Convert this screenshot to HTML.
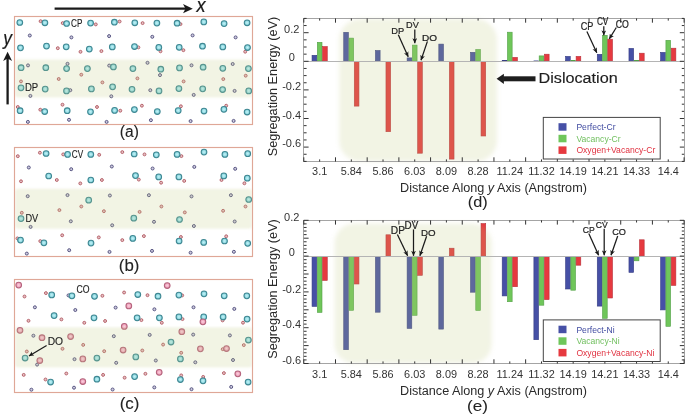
<!DOCTYPE html>
<html><head><meta charset="utf-8"><style>
html,body{margin:0;padding:0;background:#fff;}
body{width:685px;height:416px;position:relative;overflow:hidden;font-family:"Liberation Sans",sans-serif;}
</style></head><body>
<svg width="685" height="416" viewBox="0 0 685 416" style="position:absolute;left:0;top:0;will-change:transform" font-family="Liberation Sans, sans-serif">
<defs>
<radialGradient id="gc" cx="0.5" cy="0.5" r="0.55"><stop offset="0" stop-color="#c6f4f8"/><stop offset="0.6" stop-color="#92dae3"/><stop offset="1" stop-color="#62b3bf"/></radialGradient>
<radialGradient id="gp" cx="0.5" cy="0.5" r="0.55"><stop offset="0" stop-color="#fbd3e0"/><stop offset="0.6" stop-color="#f1a7c0"/><stop offset="1" stop-color="#d8849f"/></radialGradient>
<filter id="soft" x="-5%" y="-10%" width="110%" height="120%"><feGaussianBlur stdDeviation="0.8"/></filter>
<filter id="soft2" x="-5%" y="-5%" width="110%" height="110%"><feGaussianBlur stdDeviation="2"/></filter>
<marker id="ah" viewBox="0 0 10 10" refX="9.5" refY="5" markerWidth="4.2" markerHeight="4.2" orient="auto"><path d="M0,0.5 L10,5 L0,9.5 L2.5,5 z" fill="#1a1a1a"/></marker>
</defs>
<rect width="685" height="416" fill="#fff"/>
<rect x="14.5" y="16.5" width="238.0" height="108.0" fill="#fff"/>
<circle cx="40.6" cy="21.2" r="1.45" fill="#e6c0c4" stroke="#b7646c" stroke-width="1"/>
<circle cx="62.7" cy="23.1" r="1.45" fill="#e6c0c4" stroke="#b7646c" stroke-width="1"/>
<circle cx="57.8" cy="48.2" r="1.45" fill="#e6c0c4" stroke="#b7646c" stroke-width="1"/>
<circle cx="80.5" cy="51.8" r="1.45" fill="#e6c0c4" stroke="#b7646c" stroke-width="1"/>
<circle cx="95.8" cy="24.4" r="1.45" fill="#e6c0c4" stroke="#b7646c" stroke-width="1"/>
<circle cx="119.6" cy="21.5" r="1.45" fill="#e6c0c4" stroke="#b7646c" stroke-width="1"/>
<circle cx="142.6" cy="23.1" r="1.45" fill="#e6c0c4" stroke="#b7646c" stroke-width="1"/>
<circle cx="101.4" cy="51.1" r="1.45" fill="#e6c0c4" stroke="#b7646c" stroke-width="1"/>
<circle cx="138.4" cy="47.4" r="1.45" fill="#e6c0c4" stroke="#b7646c" stroke-width="1"/>
<circle cx="160.5" cy="51.3" r="1.45" fill="#e6c0c4" stroke="#b7646c" stroke-width="1"/>
<circle cx="180.5" cy="24.1" r="1.45" fill="#e6c0c4" stroke="#b7646c" stroke-width="1"/>
<circle cx="183.4" cy="50.2" r="1.45" fill="#e6c0c4" stroke="#b7646c" stroke-width="1"/>
<circle cx="245.2" cy="51.7" r="1.45" fill="#e6c0c4" stroke="#b7646c" stroke-width="1"/>
<circle cx="21" cy="81.4" r="1.45" fill="#e6c0c4" stroke="#b7646c" stroke-width="1"/>
<circle cx="58.7" cy="79" r="1.45" fill="#e6c0c4" stroke="#b7646c" stroke-width="1"/>
<circle cx="81.3" cy="74.7" r="1.45" fill="#e6c0c4" stroke="#b7646c" stroke-width="1"/>
<circle cx="17.8" cy="107" r="1.45" fill="#e6c0c4" stroke="#b7646c" stroke-width="1"/>
<circle cx="40.3" cy="109.7" r="1.45" fill="#e6c0c4" stroke="#b7646c" stroke-width="1"/>
<circle cx="62.5" cy="104.7" r="1.45" fill="#e6c0c4" stroke="#b7646c" stroke-width="1"/>
<circle cx="102.4" cy="82.4" r="1.45" fill="#e6c0c4" stroke="#b7646c" stroke-width="1"/>
<circle cx="137.4" cy="78.4" r="1.45" fill="#e6c0c4" stroke="#b7646c" stroke-width="1"/>
<circle cx="97" cy="107" r="1.45" fill="#e6c0c4" stroke="#b7646c" stroke-width="1"/>
<circle cx="120.3" cy="110.7" r="1.45" fill="#e6c0c4" stroke="#b7646c" stroke-width="1"/>
<circle cx="141.9" cy="105.7" r="1.45" fill="#e6c0c4" stroke="#b7646c" stroke-width="1"/>
<circle cx="183.6" cy="81.4" r="1.45" fill="#e6c0c4" stroke="#b7646c" stroke-width="1"/>
<circle cx="223.3" cy="79.1" r="1.45" fill="#e6c0c4" stroke="#b7646c" stroke-width="1"/>
<circle cx="245.7" cy="75.7" r="1.45" fill="#e6c0c4" stroke="#b7646c" stroke-width="1"/>
<circle cx="180.9" cy="106.3" r="1.45" fill="#e6c0c4" stroke="#b7646c" stroke-width="1"/>
<circle cx="226.2" cy="105.7" r="1.45" fill="#e6c0c4" stroke="#b7646c" stroke-width="1"/>
<circle cx="29.8" cy="35.5" r="1.5" fill="#cfcce0" stroke="#595783" stroke-width="1"/>
<circle cx="71.4" cy="37.4" r="1.5" fill="#cfcce0" stroke="#595783" stroke-width="1"/>
<circle cx="28" cy="65.4" r="1.5" fill="#cfcce0" stroke="#595783" stroke-width="1"/>
<circle cx="67.5" cy="63.8" r="1.5" fill="#cfcce0" stroke="#595783" stroke-width="1"/>
<circle cx="109.1" cy="36.1" r="1.5" fill="#cfcce0" stroke="#595783" stroke-width="1"/>
<circle cx="152.3" cy="36.8" r="1.5" fill="#cfcce0" stroke="#595783" stroke-width="1"/>
<circle cx="109.2" cy="65.6" r="1.5" fill="#cfcce0" stroke="#595783" stroke-width="1"/>
<circle cx="147.5" cy="62.8" r="1.5" fill="#cfcce0" stroke="#595783" stroke-width="1"/>
<circle cx="192.6" cy="35.4" r="1.5" fill="#cfcce0" stroke="#595783" stroke-width="1"/>
<circle cx="235.6" cy="37.4" r="1.5" fill="#cfcce0" stroke="#595783" stroke-width="1"/>
<circle cx="191.5" cy="65.3" r="1.5" fill="#cfcce0" stroke="#595783" stroke-width="1"/>
<circle cx="232.7" cy="64" r="1.5" fill="#cfcce0" stroke="#595783" stroke-width="1"/>
<circle cx="30.4" cy="95.9" r="1.5" fill="#cfcce0" stroke="#595783" stroke-width="1"/>
<circle cx="70.3" cy="90.2" r="1.5" fill="#cfcce0" stroke="#595783" stroke-width="1"/>
<circle cx="27.9" cy="121.9" r="1.5" fill="#cfcce0" stroke="#595783" stroke-width="1"/>
<circle cx="69" cy="119.8" r="1.5" fill="#cfcce0" stroke="#595783" stroke-width="1"/>
<circle cx="111.3" cy="96.3" r="1.5" fill="#cfcce0" stroke="#595783" stroke-width="1"/>
<circle cx="150.3" cy="90.2" r="1.5" fill="#cfcce0" stroke="#595783" stroke-width="1"/>
<circle cx="106.6" cy="121.9" r="1.5" fill="#cfcce0" stroke="#595783" stroke-width="1"/>
<circle cx="150.9" cy="120.2" r="1.5" fill="#cfcce0" stroke="#595783" stroke-width="1"/>
<circle cx="160" cy="75.1" r="1.5" fill="#cfcce0" stroke="#595783" stroke-width="1"/>
<circle cx="193.7" cy="94.9" r="1.5" fill="#cfcce0" stroke="#595783" stroke-width="1"/>
<circle cx="234.6" cy="90.9" r="1.5" fill="#cfcce0" stroke="#595783" stroke-width="1"/>
<circle cx="190.6" cy="121.1" r="1.5" fill="#cfcce0" stroke="#595783" stroke-width="1"/>
<circle cx="233.6" cy="120.9" r="1.5" fill="#cfcce0" stroke="#595783" stroke-width="1"/>
<circle cx="19.8" cy="22.5" r="2.85" fill="url(#gc)" stroke="#3f8893" stroke-width="1.05"/>
<circle cx="44.9" cy="22.8" r="2.85" fill="url(#gc)" stroke="#3f8893" stroke-width="1.05"/>
<circle cx="66.6" cy="23.5" r="2.85" fill="url(#gc)" stroke="#3f8893" stroke-width="1.05"/>
<circle cx="90.6" cy="23.1" r="2.85" fill="url(#gc)" stroke="#3f8893" stroke-width="1.05"/>
<circle cx="114.4" cy="22.2" r="2.85" fill="url(#gc)" stroke="#3f8893" stroke-width="1.05"/>
<circle cx="134.8" cy="22.8" r="2.85" fill="url(#gc)" stroke="#3f8893" stroke-width="1.05"/>
<circle cx="156.9" cy="23.1" r="2.85" fill="url(#gc)" stroke="#3f8893" stroke-width="1.05"/>
<circle cx="177.1" cy="23.2" r="2.85" fill="url(#gc)" stroke="#3f8893" stroke-width="1.05"/>
<circle cx="203.8" cy="21.9" r="2.85" fill="url(#gc)" stroke="#3f8893" stroke-width="1.05"/>
<circle cx="224.1" cy="23.6" r="2.85" fill="url(#gc)" stroke="#3f8893" stroke-width="1.05"/>
<circle cx="247.1" cy="22.8" r="2.85" fill="url(#gc)" stroke="#3f8893" stroke-width="1.05"/>
<circle cx="20.5" cy="47.8" r="2.85" fill="url(#gc)" stroke="#3f8893" stroke-width="1.05"/>
<circle cx="46.5" cy="46.1" r="2.85" fill="url(#gc)" stroke="#3f8893" stroke-width="1.05"/>
<circle cx="66.2" cy="46.8" r="2.85" fill="url(#gc)" stroke="#3f8893" stroke-width="1.05"/>
<circle cx="89.3" cy="49.1" r="2.85" fill="url(#gc)" stroke="#3f8893" stroke-width="1.05"/>
<circle cx="112.3" cy="46.9" r="2.85" fill="url(#gc)" stroke="#3f8893" stroke-width="1.05"/>
<circle cx="134.5" cy="46.5" r="2.85" fill="url(#gc)" stroke="#3f8893" stroke-width="1.05"/>
<circle cx="158.8" cy="47.4" r="2.85" fill="url(#gc)" stroke="#3f8893" stroke-width="1.05"/>
<circle cx="179.2" cy="47.3" r="2.85" fill="url(#gc)" stroke="#3f8893" stroke-width="1.05"/>
<circle cx="202.5" cy="46.2" r="2.85" fill="url(#gc)" stroke="#3f8893" stroke-width="1.05"/>
<circle cx="222.8" cy="46.9" r="2.85" fill="url(#gc)" stroke="#3f8893" stroke-width="1.05"/>
<circle cx="247.5" cy="47.5" r="2.85" fill="url(#gc)" stroke="#3f8893" stroke-width="1.05"/>
<circle cx="21.1" cy="67.7" r="2.85" fill="url(#gc)" stroke="#3f8893" stroke-width="1.05"/>
<circle cx="45.8" cy="67.7" r="2.85" fill="url(#gc)" stroke="#3f8893" stroke-width="1.05"/>
<circle cx="66.6" cy="68.6" r="2.85" fill="url(#gc)" stroke="#3f8893" stroke-width="1.05"/>
<circle cx="87.4" cy="68.6" r="2.85" fill="url(#gc)" stroke="#3f8893" stroke-width="1.05"/>
<circle cx="113.4" cy="66.9" r="2.85" fill="url(#gc)" stroke="#3f8893" stroke-width="1.05"/>
<circle cx="132.9" cy="68.6" r="2.85" fill="url(#gc)" stroke="#3f8893" stroke-width="1.05"/>
<circle cx="160.8" cy="69.2" r="2.85" fill="url(#gc)" stroke="#3f8893" stroke-width="1.05"/>
<circle cx="179.5" cy="67.9" r="2.85" fill="url(#gc)" stroke="#3f8893" stroke-width="1.05"/>
<circle cx="203.1" cy="67.2" r="2.85" fill="url(#gc)" stroke="#3f8893" stroke-width="1.05"/>
<circle cx="222.8" cy="68.3" r="2.85" fill="url(#gc)" stroke="#3f8893" stroke-width="1.05"/>
<circle cx="248.4" cy="68.6" r="2.85" fill="url(#gc)" stroke="#3f8893" stroke-width="1.05"/>
<circle cx="21" cy="87.8" r="2.85" fill="url(#gc)" stroke="#3f8893" stroke-width="1.05"/>
<circle cx="45.2" cy="89.1" r="2.85" fill="url(#gc)" stroke="#3f8893" stroke-width="1.05"/>
<circle cx="66.5" cy="90.9" r="2.85" fill="url(#gc)" stroke="#3f8893" stroke-width="1.05"/>
<circle cx="91.4" cy="88.9" r="2.85" fill="url(#gc)" stroke="#3f8893" stroke-width="1.05"/>
<circle cx="112.6" cy="86.8" r="2.85" fill="url(#gc)" stroke="#3f8893" stroke-width="1.05"/>
<circle cx="132" cy="89.3" r="2.85" fill="url(#gc)" stroke="#3f8893" stroke-width="1.05"/>
<circle cx="159" cy="90.9" r="2.85" fill="url(#gc)" stroke="#3f8893" stroke-width="1.05"/>
<circle cx="178.9" cy="88.6" r="2.85" fill="url(#gc)" stroke="#3f8893" stroke-width="1.05"/>
<circle cx="202.7" cy="88.8" r="2.85" fill="url(#gc)" stroke="#3f8893" stroke-width="1.05"/>
<circle cx="222.6" cy="89.5" r="2.85" fill="url(#gc)" stroke="#3f8893" stroke-width="1.05"/>
<circle cx="248.7" cy="90.9" r="2.85" fill="url(#gc)" stroke="#3f8893" stroke-width="1.05"/>
<circle cx="20.1" cy="110.7" r="2.85" fill="url(#gc)" stroke="#3f8893" stroke-width="1.05"/>
<circle cx="44.7" cy="111.5" r="2.85" fill="url(#gc)" stroke="#3f8893" stroke-width="1.05"/>
<circle cx="67.2" cy="110.7" r="2.85" fill="url(#gc)" stroke="#3f8893" stroke-width="1.05"/>
<circle cx="90.5" cy="111.8" r="2.85" fill="url(#gc)" stroke="#3f8893" stroke-width="1.05"/>
<circle cx="114.6" cy="110.4" r="2.85" fill="url(#gc)" stroke="#3f8893" stroke-width="1.05"/>
<circle cx="134.4" cy="109.5" r="2.85" fill="url(#gc)" stroke="#3f8893" stroke-width="1.05"/>
<circle cx="157.3" cy="111.5" r="2.85" fill="url(#gc)" stroke="#3f8893" stroke-width="1.05"/>
<circle cx="178.2" cy="110.6" r="2.85" fill="url(#gc)" stroke="#3f8893" stroke-width="1.05"/>
<circle cx="204" cy="111" r="2.85" fill="url(#gc)" stroke="#3f8893" stroke-width="1.05"/>
<circle cx="223.9" cy="109.3" r="2.85" fill="url(#gc)" stroke="#3f8893" stroke-width="1.05"/>
<circle cx="247.1" cy="112" r="2.85" fill="url(#gc)" stroke="#3f8893" stroke-width="1.05"/>
<rect x="15.1" y="59.5" width="236.8" height="38.0" rx="3" fill="#bec878" fill-opacity="0.2" filter="url(#soft)"/>
<rect x="14.5" y="16.5" width="238.0" height="108.0" fill="none" stroke="#dfa797" stroke-width="1.15"/>
<rect x="14.5" y="147.5" width="238.0" height="109.0" fill="#fff"/>
<circle cx="17.8" cy="156.2" r="1.45" fill="#e6c0c4" stroke="#b7646c" stroke-width="1"/>
<circle cx="39.9" cy="152.7" r="1.45" fill="#e6c0c4" stroke="#b7646c" stroke-width="1"/>
<circle cx="63.2" cy="154.4" r="1.45" fill="#e6c0c4" stroke="#b7646c" stroke-width="1"/>
<circle cx="21" cy="181.3" r="1.45" fill="#e6c0c4" stroke="#b7646c" stroke-width="1"/>
<circle cx="56.8" cy="180" r="1.45" fill="#e6c0c4" stroke="#b7646c" stroke-width="1"/>
<circle cx="80.3" cy="183.4" r="1.45" fill="#e6c0c4" stroke="#b7646c" stroke-width="1"/>
<circle cx="99.2" cy="154.8" r="1.45" fill="#e6c0c4" stroke="#b7646c" stroke-width="1"/>
<circle cx="122.3" cy="152.1" r="1.45" fill="#e6c0c4" stroke="#b7646c" stroke-width="1"/>
<circle cx="144.5" cy="154.4" r="1.45" fill="#e6c0c4" stroke="#b7646c" stroke-width="1"/>
<circle cx="101.9" cy="180" r="1.45" fill="#e6c0c4" stroke="#b7646c" stroke-width="1"/>
<circle cx="138.8" cy="179.6" r="1.45" fill="#e6c0c4" stroke="#b7646c" stroke-width="1"/>
<circle cx="161.1" cy="182.7" r="1.45" fill="#e6c0c4" stroke="#b7646c" stroke-width="1"/>
<circle cx="181.4" cy="156.1" r="1.45" fill="#e6c0c4" stroke="#b7646c" stroke-width="1"/>
<circle cx="184.2" cy="180.9" r="1.45" fill="#e6c0c4" stroke="#b7646c" stroke-width="1"/>
<circle cx="221.5" cy="180" r="1.45" fill="#e6c0c4" stroke="#b7646c" stroke-width="1"/>
<circle cx="244.4" cy="183.3" r="1.45" fill="#e6c0c4" stroke="#b7646c" stroke-width="1"/>
<circle cx="21.8" cy="212.8" r="1.45" fill="#e6c0c4" stroke="#b7646c" stroke-width="1"/>
<circle cx="59.4" cy="210.1" r="1.45" fill="#e6c0c4" stroke="#b7646c" stroke-width="1"/>
<circle cx="81.3" cy="206.5" r="1.45" fill="#e6c0c4" stroke="#b7646c" stroke-width="1"/>
<circle cx="17.4" cy="238.4" r="1.45" fill="#e6c0c4" stroke="#b7646c" stroke-width="1"/>
<circle cx="40.3" cy="241.1" r="1.45" fill="#e6c0c4" stroke="#b7646c" stroke-width="1"/>
<circle cx="62.2" cy="235.3" r="1.45" fill="#e6c0c4" stroke="#b7646c" stroke-width="1"/>
<circle cx="103.9" cy="211.2" r="1.45" fill="#e6c0c4" stroke="#b7646c" stroke-width="1"/>
<circle cx="139.6" cy="211.9" r="1.45" fill="#e6c0c4" stroke="#b7646c" stroke-width="1"/>
<circle cx="161.4" cy="206.5" r="1.45" fill="#e6c0c4" stroke="#b7646c" stroke-width="1"/>
<circle cx="98.8" cy="237.4" r="1.45" fill="#e6c0c4" stroke="#b7646c" stroke-width="1"/>
<circle cx="122.3" cy="240.1" r="1.45" fill="#e6c0c4" stroke="#b7646c" stroke-width="1"/>
<circle cx="143.9" cy="236.1" r="1.45" fill="#e6c0c4" stroke="#b7646c" stroke-width="1"/>
<circle cx="184.8" cy="212.4" r="1.45" fill="#e6c0c4" stroke="#b7646c" stroke-width="1"/>
<circle cx="223.1" cy="210.8" r="1.45" fill="#e6c0c4" stroke="#b7646c" stroke-width="1"/>
<circle cx="245.5" cy="206.5" r="1.45" fill="#e6c0c4" stroke="#b7646c" stroke-width="1"/>
<circle cx="180.9" cy="237" r="1.45" fill="#e6c0c4" stroke="#b7646c" stroke-width="1"/>
<circle cx="226.2" cy="236.3" r="1.45" fill="#e6c0c4" stroke="#b7646c" stroke-width="1"/>
<circle cx="28.8" cy="167.5" r="1.5" fill="#cfcce0" stroke="#595783" stroke-width="1"/>
<circle cx="71.2" cy="169.2" r="1.5" fill="#cfcce0" stroke="#595783" stroke-width="1"/>
<circle cx="27.7" cy="196.2" r="1.5" fill="#cfcce0" stroke="#595783" stroke-width="1"/>
<circle cx="67.5" cy="195.1" r="1.5" fill="#cfcce0" stroke="#595783" stroke-width="1"/>
<circle cx="111.8" cy="166.5" r="1.5" fill="#cfcce0" stroke="#595783" stroke-width="1"/>
<circle cx="152.6" cy="168.5" r="1.5" fill="#cfcce0" stroke="#595783" stroke-width="1"/>
<circle cx="109.9" cy="195.5" r="1.5" fill="#cfcce0" stroke="#595783" stroke-width="1"/>
<circle cx="148.9" cy="195.2" r="1.5" fill="#cfcce0" stroke="#595783" stroke-width="1"/>
<circle cx="194.3" cy="166.9" r="1.5" fill="#cfcce0" stroke="#595783" stroke-width="1"/>
<circle cx="235.2" cy="168.8" r="1.5" fill="#cfcce0" stroke="#595783" stroke-width="1"/>
<circle cx="191.5" cy="196.4" r="1.5" fill="#cfcce0" stroke="#595783" stroke-width="1"/>
<circle cx="230.9" cy="195.2" r="1.5" fill="#cfcce0" stroke="#595783" stroke-width="1"/>
<circle cx="30.6" cy="226.9" r="1.5" fill="#cfcce0" stroke="#595783" stroke-width="1"/>
<circle cx="70.8" cy="221.3" r="1.5" fill="#cfcce0" stroke="#595783" stroke-width="1"/>
<circle cx="26.8" cy="253.6" r="1.5" fill="#cfcce0" stroke="#595783" stroke-width="1"/>
<circle cx="69.2" cy="250.2" r="1.5" fill="#cfcce0" stroke="#595783" stroke-width="1"/>
<circle cx="112.2" cy="225.3" r="1.5" fill="#cfcce0" stroke="#595783" stroke-width="1"/>
<circle cx="154" cy="221.8" r="1.5" fill="#cfcce0" stroke="#595783" stroke-width="1"/>
<circle cx="109.5" cy="251.9" r="1.5" fill="#cfcce0" stroke="#595783" stroke-width="1"/>
<circle cx="152" cy="250.9" r="1.5" fill="#cfcce0" stroke="#595783" stroke-width="1"/>
<circle cx="193.9" cy="226" r="1.5" fill="#cfcce0" stroke="#595783" stroke-width="1"/>
<circle cx="234.7" cy="221.5" r="1.5" fill="#cfcce0" stroke="#595783" stroke-width="1"/>
<circle cx="190.6" cy="252.7" r="1.5" fill="#cfcce0" stroke="#595783" stroke-width="1"/>
<circle cx="233.9" cy="251.8" r="1.5" fill="#cfcce0" stroke="#595783" stroke-width="1"/>
<circle cx="46.1" cy="153.5" r="2.85" fill="url(#gc)" stroke="#3f8893" stroke-width="1.05"/>
<circle cx="67.6" cy="154.4" r="2.85" fill="url(#gc)" stroke="#3f8893" stroke-width="1.05"/>
<circle cx="90.8" cy="154.4" r="2.85" fill="url(#gc)" stroke="#3f8893" stroke-width="1.05"/>
<circle cx="134.2" cy="154" r="2.85" fill="url(#gc)" stroke="#3f8893" stroke-width="1.05"/>
<circle cx="156.3" cy="154.8" r="2.85" fill="url(#gc)" stroke="#3f8893" stroke-width="1.05"/>
<circle cx="177.1" cy="154.4" r="2.85" fill="url(#gc)" stroke="#3f8893" stroke-width="1.05"/>
<circle cx="204" cy="152.1" r="2.85" fill="url(#gc)" stroke="#3f8893" stroke-width="1.05"/>
<circle cx="224.9" cy="154.4" r="2.85" fill="url(#gc)" stroke="#3f8893" stroke-width="1.05"/>
<circle cx="247.7" cy="153.7" r="2.85" fill="url(#gc)" stroke="#3f8893" stroke-width="1.05"/>
<circle cx="48.7" cy="176" r="2.85" fill="url(#gc)" stroke="#3f8893" stroke-width="1.05"/>
<circle cx="90.8" cy="180" r="2.85" fill="url(#gc)" stroke="#3f8893" stroke-width="1.05"/>
<circle cx="135.5" cy="175.6" r="2.85" fill="url(#gc)" stroke="#3f8893" stroke-width="1.05"/>
<circle cx="158.7" cy="176.9" r="2.85" fill="url(#gc)" stroke="#3f8893" stroke-width="1.05"/>
<circle cx="178.9" cy="176.9" r="2.85" fill="url(#gc)" stroke="#3f8893" stroke-width="1.05"/>
<circle cx="223.8" cy="175.9" r="2.85" fill="url(#gc)" stroke="#3f8893" stroke-width="1.05"/>
<circle cx="247.3" cy="178.2" r="2.85" fill="url(#gc)" stroke="#3f8893" stroke-width="1.05"/>
<circle cx="88.7" cy="200.2" r="2.85" fill="url(#gc)" stroke="#3f8893" stroke-width="1.05"/>
<circle cx="248.7" cy="199.5" r="2.85" fill="url(#gc)" stroke="#3f8893" stroke-width="1.05"/>
<circle cx="21" cy="218.6" r="2.85" fill="url(#gc)" stroke="#3f8893" stroke-width="1.05"/>
<circle cx="133.8" cy="218.2" r="2.85" fill="url(#gc)" stroke="#3f8893" stroke-width="1.05"/>
<circle cx="179.5" cy="219.5" r="2.85" fill="url(#gc)" stroke="#3f8893" stroke-width="1.05"/>
<circle cx="20.5" cy="240.1" r="2.85" fill="url(#gc)" stroke="#3f8893" stroke-width="1.05"/>
<circle cx="43.9" cy="242.8" r="2.85" fill="url(#gc)" stroke="#3f8893" stroke-width="1.05"/>
<circle cx="91" cy="243.1" r="2.85" fill="url(#gc)" stroke="#3f8893" stroke-width="1.05"/>
<circle cx="132.8" cy="238.4" r="2.85" fill="url(#gc)" stroke="#3f8893" stroke-width="1.05"/>
<circle cx="179.1" cy="241" r="2.85" fill="url(#gc)" stroke="#3f8893" stroke-width="1.05"/>
<circle cx="203.7" cy="242.4" r="2.85" fill="url(#gc)" stroke="#3f8893" stroke-width="1.05"/>
<circle cx="224.5" cy="241" r="2.85" fill="url(#gc)" stroke="#3f8893" stroke-width="1.05"/>
<circle cx="247.7" cy="243.3" r="2.85" fill="url(#gc)" stroke="#3f8893" stroke-width="1.05"/>
<rect x="15.1" y="188.8" width="236.8" height="40.0" rx="3" fill="#bec878" fill-opacity="0.2" filter="url(#soft)"/>
<rect x="14.5" y="147.5" width="238.0" height="109.0" fill="none" stroke="#dfa797" stroke-width="1.15"/>
<rect x="14.5" y="279.5" width="238.0" height="113.0" fill="#fff"/>
<circle cx="24.5" cy="296.5" r="1.45" fill="#e6c0c4" stroke="#b7646c" stroke-width="1"/>
<circle cx="45.9" cy="293.1" r="1.45" fill="#e6c0c4" stroke="#b7646c" stroke-width="1"/>
<circle cx="28.5" cy="320.8" r="1.45" fill="#e6c0c4" stroke="#b7646c" stroke-width="1"/>
<circle cx="61.4" cy="319.4" r="1.45" fill="#e6c0c4" stroke="#b7646c" stroke-width="1"/>
<circle cx="84.3" cy="322.8" r="1.45" fill="#e6c0c4" stroke="#b7646c" stroke-width="1"/>
<circle cx="102.4" cy="295.8" r="1.45" fill="#e6c0c4" stroke="#b7646c" stroke-width="1"/>
<circle cx="124.1" cy="292.5" r="1.45" fill="#e6c0c4" stroke="#b7646c" stroke-width="1"/>
<circle cx="147.5" cy="295.2" r="1.45" fill="#e6c0c4" stroke="#b7646c" stroke-width="1"/>
<circle cx="105.1" cy="321" r="1.45" fill="#e6c0c4" stroke="#b7646c" stroke-width="1"/>
<circle cx="141.4" cy="320.1" r="1.45" fill="#e6c0c4" stroke="#b7646c" stroke-width="1"/>
<circle cx="161.8" cy="322.8" r="1.45" fill="#e6c0c4" stroke="#b7646c" stroke-width="1"/>
<circle cx="182.2" cy="295.4" r="1.45" fill="#e6c0c4" stroke="#b7646c" stroke-width="1"/>
<circle cx="182.5" cy="319.1" r="1.45" fill="#e6c0c4" stroke="#b7646c" stroke-width="1"/>
<circle cx="222.6" cy="320.4" r="1.45" fill="#e6c0c4" stroke="#b7646c" stroke-width="1"/>
<circle cx="243" cy="322.7" r="1.45" fill="#e6c0c4" stroke="#b7646c" stroke-width="1"/>
<circle cx="26.8" cy="351.5" r="1.45" fill="#e6c0c4" stroke="#b7646c" stroke-width="1"/>
<circle cx="62.5" cy="348.8" r="1.45" fill="#e6c0c4" stroke="#b7646c" stroke-width="1"/>
<circle cx="83.2" cy="344.9" r="1.45" fill="#e6c0c4" stroke="#b7646c" stroke-width="1"/>
<circle cx="23.7" cy="374.9" r="1.45" fill="#e6c0c4" stroke="#b7646c" stroke-width="1"/>
<circle cx="45.5" cy="379.5" r="1.45" fill="#e6c0c4" stroke="#b7646c" stroke-width="1"/>
<circle cx="66.3" cy="373.5" r="1.45" fill="#e6c0c4" stroke="#b7646c" stroke-width="1"/>
<circle cx="104.2" cy="351.2" r="1.45" fill="#e6c0c4" stroke="#b7646c" stroke-width="1"/>
<circle cx="142.3" cy="350.5" r="1.45" fill="#e6c0c4" stroke="#b7646c" stroke-width="1"/>
<circle cx="163.1" cy="344.6" r="1.45" fill="#e6c0c4" stroke="#b7646c" stroke-width="1"/>
<circle cx="103.1" cy="374.9" r="1.45" fill="#e6c0c4" stroke="#b7646c" stroke-width="1"/>
<circle cx="124.6" cy="377.7" r="1.45" fill="#e6c0c4" stroke="#b7646c" stroke-width="1"/>
<circle cx="145.4" cy="373.8" r="1.45" fill="#e6c0c4" stroke="#b7646c" stroke-width="1"/>
<circle cx="181.2" cy="352.8" r="1.45" fill="#e6c0c4" stroke="#b7646c" stroke-width="1"/>
<circle cx="222.7" cy="349.2" r="1.45" fill="#e6c0c4" stroke="#b7646c" stroke-width="1"/>
<circle cx="243.8" cy="345.1" r="1.45" fill="#e6c0c4" stroke="#b7646c" stroke-width="1"/>
<circle cx="181.2" cy="375.4" r="1.45" fill="#e6c0c4" stroke="#b7646c" stroke-width="1"/>
<circle cx="203.2" cy="376.9" r="1.45" fill="#e6c0c4" stroke="#b7646c" stroke-width="1"/>
<circle cx="223.9" cy="373.1" r="1.45" fill="#e6c0c4" stroke="#b7646c" stroke-width="1"/>
<circle cx="68.5" cy="295.4" r="1.5" fill="#cfcce0" stroke="#595783" stroke-width="1"/>
<circle cx="34.9" cy="307.3" r="1.5" fill="#cfcce0" stroke="#595783" stroke-width="1"/>
<circle cx="75.3" cy="310" r="1.5" fill="#cfcce0" stroke="#595783" stroke-width="1"/>
<circle cx="115.6" cy="307.6" r="1.5" fill="#cfcce0" stroke="#595783" stroke-width="1"/>
<circle cx="154.4" cy="309.3" r="1.5" fill="#cfcce0" stroke="#595783" stroke-width="1"/>
<circle cx="193.5" cy="307.3" r="1.5" fill="#cfcce0" stroke="#595783" stroke-width="1"/>
<circle cx="234.3" cy="308.9" r="1.5" fill="#cfcce0" stroke="#595783" stroke-width="1"/>
<circle cx="33.4" cy="335.7" r="1.5" fill="#cfcce0" stroke="#595783" stroke-width="1"/>
<circle cx="37.1" cy="364.6" r="1.5" fill="#cfcce0" stroke="#595783" stroke-width="1"/>
<circle cx="74.5" cy="359.2" r="1.5" fill="#cfcce0" stroke="#595783" stroke-width="1"/>
<circle cx="31.4" cy="389.7" r="1.5" fill="#cfcce0" stroke="#595783" stroke-width="1"/>
<circle cx="74" cy="387.7" r="1.5" fill="#cfcce0" stroke="#595783" stroke-width="1"/>
<circle cx="113.8" cy="336.2" r="1.5" fill="#cfcce0" stroke="#595783" stroke-width="1"/>
<circle cx="149.7" cy="334.9" r="1.5" fill="#cfcce0" stroke="#595783" stroke-width="1"/>
<circle cx="116.2" cy="362.8" r="1.5" fill="#cfcce0" stroke="#595783" stroke-width="1"/>
<circle cx="155.8" cy="360.5" r="1.5" fill="#cfcce0" stroke="#595783" stroke-width="1"/>
<circle cx="112.6" cy="389.5" r="1.5" fill="#cfcce0" stroke="#595783" stroke-width="1"/>
<circle cx="154.3" cy="387.4" r="1.5" fill="#cfcce0" stroke="#595783" stroke-width="1"/>
<circle cx="193.2" cy="334.6" r="1.5" fill="#cfcce0" stroke="#595783" stroke-width="1"/>
<circle cx="229.9" cy="335.4" r="1.5" fill="#cfcce0" stroke="#595783" stroke-width="1"/>
<circle cx="195.3" cy="362.3" r="1.5" fill="#cfcce0" stroke="#595783" stroke-width="1"/>
<circle cx="233" cy="360" r="1.5" fill="#cfcce0" stroke="#595783" stroke-width="1"/>
<circle cx="191.5" cy="389.2" r="1.5" fill="#cfcce0" stroke="#595783" stroke-width="1"/>
<circle cx="231.2" cy="386.9" r="1.5" fill="#cfcce0" stroke="#595783" stroke-width="1"/>
<circle cx="51.7" cy="294.9" r="2.85" fill="url(#gc)" stroke="#3f8893" stroke-width="1.05"/>
<circle cx="71.9" cy="295.8" r="2.85" fill="url(#gc)" stroke="#3f8893" stroke-width="1.05"/>
<circle cx="94.5" cy="296.3" r="2.85" fill="url(#gc)" stroke="#3f8893" stroke-width="1.05"/>
<circle cx="137.8" cy="294.5" r="2.85" fill="url(#gc)" stroke="#3f8893" stroke-width="1.05"/>
<circle cx="158" cy="296.2" r="2.85" fill="url(#gc)" stroke="#3f8893" stroke-width="1.05"/>
<circle cx="178.9" cy="295.1" r="2.85" fill="url(#gc)" stroke="#3f8893" stroke-width="1.05"/>
<circle cx="204" cy="293.8" r="2.85" fill="url(#gc)" stroke="#3f8893" stroke-width="1.05"/>
<circle cx="224.2" cy="295.8" r="2.85" fill="url(#gc)" stroke="#3f8893" stroke-width="1.05"/>
<circle cx="246.8" cy="295.8" r="2.85" fill="url(#gc)" stroke="#3f8893" stroke-width="1.05"/>
<circle cx="54.1" cy="315.6" r="2.85" fill="url(#gc)" stroke="#3f8893" stroke-width="1.05"/>
<circle cx="94" cy="317.8" r="2.85" fill="url(#gc)" stroke="#3f8893" stroke-width="1.05"/>
<circle cx="137.1" cy="317.8" r="2.85" fill="url(#gc)" stroke="#3f8893" stroke-width="1.05"/>
<circle cx="159.4" cy="317.8" r="2.85" fill="url(#gc)" stroke="#3f8893" stroke-width="1.05"/>
<circle cx="178.9" cy="316.9" r="2.85" fill="url(#gc)" stroke="#3f8893" stroke-width="1.05"/>
<circle cx="203.7" cy="316.9" r="2.85" fill="url(#gc)" stroke="#3f8893" stroke-width="1.05"/>
<circle cx="223.1" cy="316.9" r="2.85" fill="url(#gc)" stroke="#3f8893" stroke-width="1.05"/>
<circle cx="247.1" cy="319.1" r="2.85" fill="url(#gc)" stroke="#3f8893" stroke-width="1.05"/>
<circle cx="171" cy="342" r="2.85" fill="url(#gc)" stroke="#3f8893" stroke-width="1.05"/>
<circle cx="248.4" cy="340" r="2.85" fill="url(#gc)" stroke="#3f8893" stroke-width="1.05"/>
<circle cx="25.1" cy="358" r="2.85" fill="url(#gc)" stroke="#3f8893" stroke-width="1.05"/>
<circle cx="96.9" cy="358" r="2.85" fill="url(#gc)" stroke="#3f8893" stroke-width="1.05"/>
<circle cx="135.8" cy="356.9" r="2.85" fill="url(#gc)" stroke="#3f8893" stroke-width="1.05"/>
<circle cx="180.4" cy="358.9" r="2.85" fill="url(#gc)" stroke="#3f8893" stroke-width="1.05"/>
<circle cx="50.6" cy="382" r="2.85" fill="url(#gc)" stroke="#3f8893" stroke-width="1.05"/>
<circle cx="96.9" cy="379.2" r="2.85" fill="url(#gc)" stroke="#3f8893" stroke-width="1.05"/>
<circle cx="134.6" cy="376.6" r="2.85" fill="url(#gc)" stroke="#3f8893" stroke-width="1.05"/>
<circle cx="180.4" cy="379.5" r="2.85" fill="url(#gc)" stroke="#3f8893" stroke-width="1.05"/>
<circle cx="203" cy="380.8" r="2.85" fill="url(#gc)" stroke="#3f8893" stroke-width="1.05"/>
<circle cx="248.1" cy="382" r="2.85" fill="url(#gc)" stroke="#3f8893" stroke-width="1.05"/>
<circle cx="18.7" cy="285.1" r="2.85" fill="url(#gp)" stroke="#b5647d" stroke-width="1.05"/>
<circle cx="167.2" cy="285.5" r="2.85" fill="url(#gp)" stroke="#b5647d" stroke-width="1.05"/>
<circle cx="128.8" cy="305.9" r="2.85" fill="url(#gp)" stroke="#b5647d" stroke-width="1.05"/>
<circle cx="124.3" cy="326.4" r="2.85" fill="url(#gp)" stroke="#b5647d" stroke-width="1.05"/>
<circle cx="202.9" cy="321.8" r="2.85" fill="url(#gp)" stroke="#b5647d" stroke-width="1.05"/>
<circle cx="181.8" cy="331.7" r="2.85" fill="url(#gp)" stroke="#b5647d" stroke-width="1.05"/>
<circle cx="20" cy="330.3" r="2.85" fill="url(#gp)" stroke="#b5647d" stroke-width="1.05"/>
<circle cx="42" cy="337.7" r="2.85" fill="url(#gp)" stroke="#b5647d" stroke-width="1.05"/>
<circle cx="70.6" cy="336.5" r="2.85" fill="url(#gp)" stroke="#b5647d" stroke-width="1.05"/>
<circle cx="39.8" cy="360.5" r="2.85" fill="url(#gp)" stroke="#b5647d" stroke-width="1.05"/>
<circle cx="82.8" cy="358.9" r="2.85" fill="url(#gp)" stroke="#b5647d" stroke-width="1.05"/>
<circle cx="82.8" cy="381.5" r="2.85" fill="url(#gp)" stroke="#b5647d" stroke-width="1.05"/>
<circle cx="123.1" cy="350" r="2.85" fill="url(#gp)" stroke="#b5647d" stroke-width="1.05"/>
<circle cx="159.2" cy="372.3" r="2.85" fill="url(#gp)" stroke="#b5647d" stroke-width="1.05"/>
<circle cx="200.4" cy="348.8" r="2.85" fill="url(#gp)" stroke="#b5647d" stroke-width="1.05"/>
<circle cx="226.5" cy="348.5" r="2.85" fill="url(#gp)" stroke="#b5647d" stroke-width="1.05"/>
<circle cx="237.8" cy="373.8" r="2.85" fill="url(#gp)" stroke="#b5647d" stroke-width="1.05"/>
<rect x="15.1" y="327.3" width="236.8" height="40.30000000000001" rx="3" fill="#bec878" fill-opacity="0.2" filter="url(#soft)"/>
<rect x="14.5" y="279.5" width="238.0" height="113.0" fill="none" stroke="#dfa797" stroke-width="1.15"/>
<text x="70.99" y="27.00" font-size="10.59" textLength="11.35" lengthAdjust="spacingAndGlyphs" fill="#222" stroke="#222" stroke-width="0.12" >CP</text>
<text x="24.92" y="91.00" font-size="11.34" textLength="13.29" lengthAdjust="spacingAndGlyphs" fill="#222" stroke="#222" stroke-width="0.12" >DP</text>
<text x="71.79" y="157.80" font-size="10.17" textLength="11.35" lengthAdjust="spacingAndGlyphs" fill="#222" stroke="#222" stroke-width="0.12" >CV</text>
<text x="25.44" y="222.30" font-size="10.90" textLength="12.80" lengthAdjust="spacingAndGlyphs" fill="#222" stroke="#222" stroke-width="0.12" >DV</text>
<text x="76.46" y="293.20" font-size="10.31" textLength="13.06" lengthAdjust="spacingAndGlyphs" fill="#222" stroke="#222" stroke-width="0.12" >CO</text>
<text x="47.66" y="345.09" font-size="11.02" textLength="15.44" lengthAdjust="spacingAndGlyphs" fill="#222" stroke="#222" stroke-width="0.12" >DO</text>
<line x1="46.6" y1="345.4" x2="29" y2="355.9" stroke="#1a1a1a" stroke-width="1.2" marker-end="url(#ah)"/>
<text x="119.83" y="137.33" font-size="15.78" textLength="19.03" lengthAdjust="spacingAndGlyphs" fill="#222" stroke="#222" stroke-width="0.1" >(a)</text>
<text x="118.86" y="270.64" font-size="16.21" textLength="20.59" lengthAdjust="spacingAndGlyphs" fill="#222" stroke="#222" stroke-width="0.1" >(b)</text>
<text x="119.75" y="408.84" font-size="16.21" textLength="19.69" lengthAdjust="spacingAndGlyphs" fill="#222" stroke="#222" stroke-width="0.1" >(c)</text>
<line x1="54.6" y1="8.7" x2="188" y2="8.7" stroke="#1a1a1a" stroke-width="2.3"/>
<path d="M192.8,8.7 L183,3.9 L185.5,8.7 L183,13.3 z" fill="#1a1a1a"/>
<text x="196.62" y="12.00" font-size="20.54" textLength="9.05" lengthAdjust="spacingAndGlyphs" fill="#1a1a1a" stroke="#1a1a1a" stroke-width="0.22" font-style="italic" >x</text>
<line x1="7.6" y1="104.4" x2="7.6" y2="56" stroke="#1a1a1a" stroke-width="2.3"/>
<path d="M7.6,51.8 L3.1,61 L7.6,58.6 L12.1,61 z" fill="#1a1a1a"/>
<text x="3.29" y="44.87" font-size="20.38" textLength="8.73" lengthAdjust="spacingAndGlyphs" fill="#1a1a1a" stroke="#1a1a1a" stroke-width="0.22" font-style="italic" >y</text>
<rect x="312.05" y="55.30" width="4.67" height="5.60" fill="#4650a6" stroke="#363c82" stroke-width="0.6"/>
<rect x="317.32" y="42.30" width="4.67" height="18.60" fill="#6fc65a" stroke="#52a046" stroke-width="0.6"/>
<rect x="322.59" y="46.60" width="4.67" height="14.30" fill="#e6393f" stroke="#b8303a" stroke-width="0.6"/>
<rect x="343.74" y="32.30" width="4.67" height="28.60" fill="#4650a6" stroke="#363c82" stroke-width="0.6"/>
<rect x="349.01" y="38.10" width="4.67" height="22.80" fill="#6fc65a" stroke="#52a046" stroke-width="0.6"/>
<rect x="354.28" y="61.50" width="4.67" height="44.60" fill="#e6393f" stroke="#b8303a" stroke-width="0.6"/>
<rect x="375.43" y="50.50" width="4.67" height="10.40" fill="#4650a6" stroke="#363c82" stroke-width="0.6"/>
<rect x="385.97" y="61.50" width="4.67" height="70.20" fill="#e6393f" stroke="#b8303a" stroke-width="0.6"/>
<rect x="407.12" y="57.90" width="4.67" height="3.00" fill="#4650a6" stroke="#363c82" stroke-width="0.6"/>
<rect x="412.39" y="45.10" width="4.67" height="15.80" fill="#6fc65a" stroke="#52a046" stroke-width="0.6"/>
<rect x="417.66" y="61.50" width="4.67" height="91.70" fill="#e6393f" stroke="#b8303a" stroke-width="0.6"/>
<rect x="438.81" y="44.10" width="4.67" height="16.80" fill="#4650a6" stroke="#363c82" stroke-width="0.6"/>
<rect x="449.35" y="61.50" width="4.67" height="97.60" fill="#e6393f" stroke="#b8303a" stroke-width="0.6"/>
<rect x="470.50" y="52.30" width="4.67" height="8.60" fill="#4650a6" stroke="#363c82" stroke-width="0.6"/>
<rect x="475.77" y="49.50" width="4.67" height="11.40" fill="#6fc65a" stroke="#52a046" stroke-width="0.6"/>
<rect x="481.04" y="61.50" width="4.67" height="74.50" fill="#e6393f" stroke="#b8303a" stroke-width="0.6"/>
<rect x="502.20" y="60.30" width="4.67" height="0.60" fill="#4650a6" stroke="#363c82" stroke-width="0.6"/>
<rect x="507.47" y="32.20" width="4.67" height="28.70" fill="#6fc65a" stroke="#52a046" stroke-width="0.6"/>
<rect x="512.74" y="57.40" width="4.67" height="3.50" fill="#e6393f" stroke="#b8303a" stroke-width="0.6"/>
<rect x="533.89" y="60.90" width="4.67" height="0.10" fill="#4650a6" stroke="#363c82" stroke-width="0.6"/>
<rect x="539.16" y="55.90" width="4.67" height="5.00" fill="#6fc65a" stroke="#52a046" stroke-width="0.6"/>
<rect x="544.43" y="54.20" width="4.67" height="6.70" fill="#e6393f" stroke="#b8303a" stroke-width="0.6"/>
<rect x="565.58" y="56.40" width="4.67" height="4.50" fill="#4650a6" stroke="#363c82" stroke-width="0.6"/>
<rect x="570.85" y="60.40" width="4.67" height="0.50" fill="#6fc65a" stroke="#52a046" stroke-width="0.6"/>
<rect x="576.12" y="56.40" width="4.67" height="4.50" fill="#e6393f" stroke="#b8303a" stroke-width="0.6"/>
<rect x="597.27" y="54.30" width="4.67" height="6.60" fill="#4650a6" stroke="#363c82" stroke-width="0.6"/>
<rect x="602.54" y="35.30" width="4.67" height="25.60" fill="#6fc65a" stroke="#52a046" stroke-width="0.6"/>
<rect x="607.81" y="39.20" width="4.67" height="21.70" fill="#e6393f" stroke="#b8303a" stroke-width="0.6"/>
<rect x="628.96" y="48.40" width="4.67" height="12.50" fill="#4650a6" stroke="#363c82" stroke-width="0.6"/>
<rect x="634.23" y="60.50" width="4.67" height="0.40" fill="#6fc65a" stroke="#52a046" stroke-width="0.6"/>
<rect x="639.50" y="53.20" width="4.67" height="7.70" fill="#e6393f" stroke="#b8303a" stroke-width="0.6"/>
<rect x="660.65" y="52.40" width="4.67" height="8.50" fill="#4650a6" stroke="#363c82" stroke-width="0.6"/>
<rect x="665.92" y="40.30" width="4.67" height="20.60" fill="#6fc65a" stroke="#52a046" stroke-width="0.6"/>
<rect x="671.19" y="48.20" width="4.67" height="12.70" fill="#e6393f" stroke="#b8303a" stroke-width="0.6"/>
<rect x="339.2" y="18.8" width="157.8" height="142.7" rx="21" fill="#bec878" fill-opacity="0.2" filter="url(#soft2)"/>
<line x1="303.8" y1="61.5" x2="684.1" y2="61.5" stroke="#b4b4b4" stroke-width="1"/>
<rect x="303.5" y="18.5" width="381.0" height="143.0" fill="none" stroke="#a4a4a4" stroke-width="1"/>
<line x1="303.80" y1="18.4" x2="303.80" y2="22.7" stroke="#333" stroke-width="1"/>
<line x1="303.80" y1="161.6" x2="303.80" y2="157.29999999999998" stroke="#333" stroke-width="1"/>
<line x1="335.49" y1="18.4" x2="335.49" y2="22.7" stroke="#333" stroke-width="1"/>
<line x1="335.49" y1="161.6" x2="335.49" y2="157.29999999999998" stroke="#333" stroke-width="1"/>
<line x1="367.18" y1="18.4" x2="367.18" y2="22.7" stroke="#333" stroke-width="1"/>
<line x1="367.18" y1="161.6" x2="367.18" y2="157.29999999999998" stroke="#333" stroke-width="1"/>
<line x1="398.88" y1="18.4" x2="398.88" y2="22.7" stroke="#333" stroke-width="1"/>
<line x1="398.88" y1="161.6" x2="398.88" y2="157.29999999999998" stroke="#333" stroke-width="1"/>
<line x1="430.57" y1="18.4" x2="430.57" y2="22.7" stroke="#333" stroke-width="1"/>
<line x1="430.57" y1="161.6" x2="430.57" y2="157.29999999999998" stroke="#333" stroke-width="1"/>
<line x1="462.26" y1="18.4" x2="462.26" y2="22.7" stroke="#333" stroke-width="1"/>
<line x1="462.26" y1="161.6" x2="462.26" y2="157.29999999999998" stroke="#333" stroke-width="1"/>
<line x1="493.95" y1="18.4" x2="493.95" y2="22.7" stroke="#333" stroke-width="1"/>
<line x1="493.95" y1="161.6" x2="493.95" y2="157.29999999999998" stroke="#333" stroke-width="1"/>
<line x1="525.64" y1="18.4" x2="525.64" y2="22.7" stroke="#333" stroke-width="1"/>
<line x1="525.64" y1="161.6" x2="525.64" y2="157.29999999999998" stroke="#333" stroke-width="1"/>
<line x1="557.33" y1="18.4" x2="557.33" y2="22.7" stroke="#333" stroke-width="1"/>
<line x1="557.33" y1="161.6" x2="557.33" y2="157.29999999999998" stroke="#333" stroke-width="1"/>
<line x1="589.03" y1="18.4" x2="589.03" y2="22.7" stroke="#333" stroke-width="1"/>
<line x1="589.03" y1="161.6" x2="589.03" y2="157.29999999999998" stroke="#333" stroke-width="1"/>
<line x1="620.72" y1="18.4" x2="620.72" y2="22.7" stroke="#333" stroke-width="1"/>
<line x1="620.72" y1="161.6" x2="620.72" y2="157.29999999999998" stroke="#333" stroke-width="1"/>
<line x1="652.41" y1="18.4" x2="652.41" y2="22.7" stroke="#333" stroke-width="1"/>
<line x1="652.41" y1="161.6" x2="652.41" y2="157.29999999999998" stroke="#333" stroke-width="1"/>
<line x1="684.10" y1="18.4" x2="684.10" y2="22.7" stroke="#333" stroke-width="1"/>
<line x1="684.10" y1="161.6" x2="684.10" y2="157.29999999999998" stroke="#333" stroke-width="1"/>
<line x1="319.65" y1="18.4" x2="319.65" y2="20.599999999999998" stroke="#333" stroke-width="1"/>
<line x1="319.65" y1="161.6" x2="319.65" y2="159.4" stroke="#333" stroke-width="1"/>
<line x1="351.34" y1="18.4" x2="351.34" y2="20.599999999999998" stroke="#333" stroke-width="1"/>
<line x1="351.34" y1="161.6" x2="351.34" y2="159.4" stroke="#333" stroke-width="1"/>
<line x1="383.03" y1="18.4" x2="383.03" y2="20.599999999999998" stroke="#333" stroke-width="1"/>
<line x1="383.03" y1="161.6" x2="383.03" y2="159.4" stroke="#333" stroke-width="1"/>
<line x1="414.72" y1="18.4" x2="414.72" y2="20.599999999999998" stroke="#333" stroke-width="1"/>
<line x1="414.72" y1="161.6" x2="414.72" y2="159.4" stroke="#333" stroke-width="1"/>
<line x1="446.41" y1="18.4" x2="446.41" y2="20.599999999999998" stroke="#333" stroke-width="1"/>
<line x1="446.41" y1="161.6" x2="446.41" y2="159.4" stroke="#333" stroke-width="1"/>
<line x1="478.10" y1="18.4" x2="478.10" y2="20.599999999999998" stroke="#333" stroke-width="1"/>
<line x1="478.10" y1="161.6" x2="478.10" y2="159.4" stroke="#333" stroke-width="1"/>
<line x1="509.80" y1="18.4" x2="509.80" y2="20.599999999999998" stroke="#333" stroke-width="1"/>
<line x1="509.80" y1="161.6" x2="509.80" y2="159.4" stroke="#333" stroke-width="1"/>
<line x1="541.49" y1="18.4" x2="541.49" y2="20.599999999999998" stroke="#333" stroke-width="1"/>
<line x1="541.49" y1="161.6" x2="541.49" y2="159.4" stroke="#333" stroke-width="1"/>
<line x1="573.18" y1="18.4" x2="573.18" y2="20.599999999999998" stroke="#333" stroke-width="1"/>
<line x1="573.18" y1="161.6" x2="573.18" y2="159.4" stroke="#333" stroke-width="1"/>
<line x1="604.87" y1="18.4" x2="604.87" y2="20.599999999999998" stroke="#333" stroke-width="1"/>
<line x1="604.87" y1="161.6" x2="604.87" y2="159.4" stroke="#333" stroke-width="1"/>
<line x1="636.56" y1="18.4" x2="636.56" y2="20.599999999999998" stroke="#333" stroke-width="1"/>
<line x1="636.56" y1="161.6" x2="636.56" y2="159.4" stroke="#333" stroke-width="1"/>
<line x1="668.25" y1="18.4" x2="668.25" y2="20.599999999999998" stroke="#333" stroke-width="1"/>
<line x1="668.25" y1="161.6" x2="668.25" y2="159.4" stroke="#333" stroke-width="1"/>
<line x1="303.8" y1="18.40" x2="306.6" y2="18.40" stroke="#333" stroke-width="1"/>
<line x1="684.1" y1="18.40" x2="681.8000000000001" y2="18.40" stroke="#333" stroke-width="1"/>
<line x1="303.8" y1="25.55" x2="306.6" y2="25.55" stroke="#333" stroke-width="1"/>
<line x1="684.1" y1="25.55" x2="681.8000000000001" y2="25.55" stroke="#333" stroke-width="1"/>
<line x1="303.8" y1="32.70" x2="308.6" y2="32.70" stroke="#333" stroke-width="1"/>
<line x1="684.1" y1="32.70" x2="679.8000000000001" y2="32.70" stroke="#333" stroke-width="1"/>
<line x1="303.8" y1="39.85" x2="306.6" y2="39.85" stroke="#333" stroke-width="1"/>
<line x1="684.1" y1="39.85" x2="681.8000000000001" y2="39.85" stroke="#333" stroke-width="1"/>
<line x1="303.8" y1="47.00" x2="306.6" y2="47.00" stroke="#333" stroke-width="1"/>
<line x1="684.1" y1="47.00" x2="681.8000000000001" y2="47.00" stroke="#333" stroke-width="1"/>
<line x1="303.8" y1="54.15" x2="306.6" y2="54.15" stroke="#333" stroke-width="1"/>
<line x1="684.1" y1="54.15" x2="681.8000000000001" y2="54.15" stroke="#333" stroke-width="1"/>
<line x1="303.8" y1="61.30" x2="308.6" y2="61.30" stroke="#333" stroke-width="1"/>
<line x1="684.1" y1="61.30" x2="679.8000000000001" y2="61.30" stroke="#333" stroke-width="1"/>
<line x1="303.8" y1="68.45" x2="306.6" y2="68.45" stroke="#333" stroke-width="1"/>
<line x1="684.1" y1="68.45" x2="681.8000000000001" y2="68.45" stroke="#333" stroke-width="1"/>
<line x1="303.8" y1="75.60" x2="306.6" y2="75.60" stroke="#333" stroke-width="1"/>
<line x1="684.1" y1="75.60" x2="681.8000000000001" y2="75.60" stroke="#333" stroke-width="1"/>
<line x1="303.8" y1="82.75" x2="306.6" y2="82.75" stroke="#333" stroke-width="1"/>
<line x1="684.1" y1="82.75" x2="681.8000000000001" y2="82.75" stroke="#333" stroke-width="1"/>
<line x1="303.8" y1="89.90" x2="308.6" y2="89.90" stroke="#333" stroke-width="1"/>
<line x1="684.1" y1="89.90" x2="679.8000000000001" y2="89.90" stroke="#333" stroke-width="1"/>
<line x1="303.8" y1="97.05" x2="306.6" y2="97.05" stroke="#333" stroke-width="1"/>
<line x1="684.1" y1="97.05" x2="681.8000000000001" y2="97.05" stroke="#333" stroke-width="1"/>
<line x1="303.8" y1="104.20" x2="306.6" y2="104.20" stroke="#333" stroke-width="1"/>
<line x1="684.1" y1="104.20" x2="681.8000000000001" y2="104.20" stroke="#333" stroke-width="1"/>
<line x1="303.8" y1="111.35" x2="306.6" y2="111.35" stroke="#333" stroke-width="1"/>
<line x1="684.1" y1="111.35" x2="681.8000000000001" y2="111.35" stroke="#333" stroke-width="1"/>
<line x1="303.8" y1="118.50" x2="308.6" y2="118.50" stroke="#333" stroke-width="1"/>
<line x1="684.1" y1="118.50" x2="679.8000000000001" y2="118.50" stroke="#333" stroke-width="1"/>
<line x1="303.8" y1="125.65" x2="306.6" y2="125.65" stroke="#333" stroke-width="1"/>
<line x1="684.1" y1="125.65" x2="681.8000000000001" y2="125.65" stroke="#333" stroke-width="1"/>
<line x1="303.8" y1="132.80" x2="306.6" y2="132.80" stroke="#333" stroke-width="1"/>
<line x1="684.1" y1="132.80" x2="681.8000000000001" y2="132.80" stroke="#333" stroke-width="1"/>
<line x1="303.8" y1="139.95" x2="306.6" y2="139.95" stroke="#333" stroke-width="1"/>
<line x1="684.1" y1="139.95" x2="681.8000000000001" y2="139.95" stroke="#333" stroke-width="1"/>
<line x1="303.8" y1="147.10" x2="308.6" y2="147.10" stroke="#333" stroke-width="1"/>
<line x1="684.1" y1="147.10" x2="679.8000000000001" y2="147.10" stroke="#333" stroke-width="1"/>
<line x1="303.8" y1="154.25" x2="306.6" y2="154.25" stroke="#333" stroke-width="1"/>
<line x1="684.1" y1="154.25" x2="681.8000000000001" y2="154.25" stroke="#333" stroke-width="1"/>
<line x1="303.8" y1="161.40" x2="306.6" y2="161.40" stroke="#333" stroke-width="1"/>
<line x1="684.1" y1="161.40" x2="681.8000000000001" y2="161.40" stroke="#333" stroke-width="1"/>
<text x="291.7" y="32.699999999999996" font-size="11" text-anchor="middle" fill="#333" >0.2</text>
<text x="291.7" y="60.9" font-size="11" text-anchor="middle" fill="#333" >0</text>
<text x="291.7" y="89.7" font-size="11" text-anchor="middle" fill="#333" >-0.2</text>
<text x="291.7" y="119.1" font-size="11" text-anchor="middle" fill="#333" >-0.4</text>
<text x="291.7" y="147.3" font-size="11" text-anchor="middle" fill="#333" >-0.6</text>
<text x="319.65" y="175.20000000000002" font-size="10.9" text-anchor="middle" fill="#333" >3.1</text>
<text x="351.34" y="175.20000000000002" font-size="10.9" text-anchor="middle" fill="#333" >5.84</text>
<text x="383.03" y="175.20000000000002" font-size="10.9" text-anchor="middle" fill="#333" >5.86</text>
<text x="414.72" y="175.20000000000002" font-size="10.9" text-anchor="middle" fill="#333" >6.03</text>
<text x="446.41" y="175.20000000000002" font-size="10.9" text-anchor="middle" fill="#333" >8.09</text>
<text x="478.10" y="175.20000000000002" font-size="10.9" text-anchor="middle" fill="#333" >8.28</text>
<text x="509.80" y="175.20000000000002" font-size="10.9" text-anchor="middle" fill="#333" >11.24</text>
<text x="541.49" y="175.20000000000002" font-size="10.9" text-anchor="middle" fill="#333" >11.32</text>
<text x="573.18" y="175.20000000000002" font-size="10.9" text-anchor="middle" fill="#333" >14.19</text>
<text x="604.87" y="175.20000000000002" font-size="10.9" text-anchor="middle" fill="#333" >14.21</text>
<text x="636.56" y="175.20000000000002" font-size="10.9" text-anchor="middle" fill="#333" >14.33</text>
<text x="668.25" y="175.20000000000002" font-size="10.9" text-anchor="middle" fill="#333" >14.4</text>
<text x="400" y="192.2" font-size="12.65" fill="#2a2a2a">Distance Along <tspan font-style="italic">y</tspan> Axis (Angstrom)</text>
<text transform="translate(277.2,86.5) rotate(-90)" font-size="12.7" text-anchor="middle" fill="#2a2a2a">Segregation Energy (eV)</text>
<text x="467.89" y="207.20" font-size="15.46" textLength="19.92" lengthAdjust="spacingAndGlyphs" fill="#222" stroke="#222" stroke-width="0.05" >(d)</text>
<rect x="543.3" y="117.4" width="116.9" height="41.6" fill="#fff" stroke="#444" stroke-width="1"/>
<rect x="558.5" y="123.20" width="8" height="7.5" fill="#4650a6"/>
<text x="576.4" y="130.00" font-size="8.6" text-anchor="start" fill="#3f4aa0" >Perfect-Cr</text>
<rect x="558.5" y="134.80" width="8" height="7.5" fill="#6fc65a"/>
<text x="576.4" y="141.60" font-size="8.6" text-anchor="start" fill="#72c060" >Vacancy-Cr</text>
<rect x="558.5" y="146.40" width="8" height="7.5" fill="#e6393f"/>
<text x="576.4" y="153.20" font-size="8.6" text-anchor="start" fill="#e0303f" >Oxygen+Vacancy-Cr</text>
<text x="391.23" y="34.00" font-size="9.45" textLength="12.96" lengthAdjust="spacingAndGlyphs" fill="#222" stroke="#222" stroke-width="0.22" >DP</text>
<line x1="398.3" y1="34.8" x2="408.2" y2="56.8" stroke="#1a1a1a" stroke-width="1.25" marker-end="url(#ah)"/>
<text x="406.05" y="28.20" font-size="9.88" textLength="12.69" lengthAdjust="spacingAndGlyphs" fill="#222" stroke="#222" stroke-width="0.22" >DV</text>
<line x1="414.8" y1="29.5" x2="414.8" y2="43.2" stroke="#1a1a1a" stroke-width="1.25" marker-end="url(#ah)"/>
<text x="421.98" y="40.62" font-size="8.47" textLength="15.00" lengthAdjust="spacingAndGlyphs" fill="#222" stroke="#222" stroke-width="0.22" >DO</text>
<line x1="427.4" y1="41.4" x2="421.0" y2="60.3" stroke="#1a1a1a" stroke-width="1.25" marker-end="url(#ah)"/>
<text x="580.74" y="30.39" font-size="11.30" textLength="12.64" lengthAdjust="spacingAndGlyphs" fill="#222" stroke="#222" stroke-width="0.22" >CP</text>
<line x1="586.9" y1="31.6" x2="596.8" y2="52.8" stroke="#1a1a1a" stroke-width="1.25" marker-end="url(#ah)"/>
<text x="596.88" y="25.10" font-size="10.45" textLength="11.45" lengthAdjust="spacingAndGlyphs" fill="#222" stroke="#222" stroke-width="0.22" >CV</text>
<line x1="603.8" y1="26.3" x2="603.8" y2="35.3" stroke="#1a1a1a" stroke-width="1.25" marker-end="url(#ah)"/>
<text x="615.66" y="27.70" font-size="10.03" textLength="13.06" lengthAdjust="spacingAndGlyphs" fill="#222" stroke="#222" stroke-width="0.22" >CO</text>
<line x1="616.3" y1="27.5" x2="609.3" y2="38.9" stroke="#1a1a1a" stroke-width="1.25" marker-end="url(#ah)"/>
<rect x="312.05" y="256.50" width="4.67" height="49.90" fill="#4650a6" stroke="#363c82" stroke-width="0.6"/>
<rect x="317.32" y="256.50" width="4.67" height="55.90" fill="#6fc65a" stroke="#52a046" stroke-width="0.6"/>
<rect x="322.59" y="256.50" width="4.67" height="23.90" fill="#e6393f" stroke="#b8303a" stroke-width="0.6"/>
<rect x="343.74" y="256.50" width="4.67" height="93.20" fill="#4650a6" stroke="#363c82" stroke-width="0.6"/>
<rect x="349.01" y="256.50" width="4.67" height="53.80" fill="#6fc65a" stroke="#52a046" stroke-width="0.6"/>
<rect x="354.28" y="256.50" width="4.67" height="27.50" fill="#e6393f" stroke="#b8303a" stroke-width="0.6"/>
<rect x="375.43" y="256.50" width="4.67" height="55.70" fill="#4650a6" stroke="#363c82" stroke-width="0.6"/>
<rect x="385.97" y="234.80" width="4.67" height="21.10" fill="#e6393f" stroke="#b8303a" stroke-width="0.6"/>
<rect x="407.12" y="256.50" width="4.67" height="71.90" fill="#4650a6" stroke="#363c82" stroke-width="0.6"/>
<rect x="412.39" y="256.50" width="4.67" height="58.80" fill="#6fc65a" stroke="#52a046" stroke-width="0.6"/>
<rect x="417.66" y="256.50" width="4.67" height="18.80" fill="#e6393f" stroke="#b8303a" stroke-width="0.6"/>
<rect x="438.81" y="256.50" width="4.67" height="72.60" fill="#4650a6" stroke="#363c82" stroke-width="0.6"/>
<rect x="449.35" y="248.20" width="4.67" height="7.70" fill="#e6393f" stroke="#b8303a" stroke-width="0.6"/>
<rect x="470.50" y="256.50" width="4.67" height="35.70" fill="#4650a6" stroke="#363c82" stroke-width="0.6"/>
<rect x="475.77" y="256.50" width="4.67" height="54.00" fill="#6fc65a" stroke="#52a046" stroke-width="0.6"/>
<rect x="481.04" y="223.60" width="4.67" height="32.30" fill="#e6393f" stroke="#b8303a" stroke-width="0.6"/>
<rect x="502.20" y="256.50" width="4.67" height="39.40" fill="#4650a6" stroke="#363c82" stroke-width="0.6"/>
<rect x="507.47" y="256.50" width="4.67" height="45.20" fill="#6fc65a" stroke="#52a046" stroke-width="0.6"/>
<rect x="512.74" y="256.50" width="4.67" height="30.20" fill="#e6393f" stroke="#b8303a" stroke-width="0.6"/>
<rect x="533.89" y="256.50" width="4.67" height="83.20" fill="#4650a6" stroke="#363c82" stroke-width="0.6"/>
<rect x="539.16" y="256.50" width="4.67" height="48.70" fill="#6fc65a" stroke="#52a046" stroke-width="0.6"/>
<rect x="544.43" y="256.50" width="4.67" height="43.10" fill="#e6393f" stroke="#b8303a" stroke-width="0.6"/>
<rect x="565.58" y="256.50" width="4.67" height="32.50" fill="#4650a6" stroke="#363c82" stroke-width="0.6"/>
<rect x="570.85" y="256.50" width="4.67" height="33.70" fill="#6fc65a" stroke="#52a046" stroke-width="0.6"/>
<rect x="576.12" y="256.50" width="4.67" height="8.70" fill="#e6393f" stroke="#b8303a" stroke-width="0.6"/>
<rect x="597.27" y="256.50" width="4.67" height="49.60" fill="#4650a6" stroke="#363c82" stroke-width="0.6"/>
<rect x="602.54" y="256.50" width="4.67" height="61.80" fill="#6fc65a" stroke="#52a046" stroke-width="0.6"/>
<rect x="607.81" y="256.50" width="4.67" height="41.50" fill="#e6393f" stroke="#b8303a" stroke-width="0.6"/>
<rect x="628.96" y="256.50" width="4.67" height="15.90" fill="#4650a6" stroke="#363c82" stroke-width="0.6"/>
<rect x="634.23" y="256.50" width="4.67" height="4.30" fill="#6fc65a" stroke="#52a046" stroke-width="0.6"/>
<rect x="639.50" y="239.80" width="4.67" height="16.10" fill="#e6393f" stroke="#b8303a" stroke-width="0.6"/>
<rect x="660.65" y="256.50" width="4.67" height="53.40" fill="#4650a6" stroke="#363c82" stroke-width="0.6"/>
<rect x="665.92" y="256.50" width="4.67" height="69.80" fill="#6fc65a" stroke="#52a046" stroke-width="0.6"/>
<rect x="671.19" y="256.50" width="4.67" height="28.90" fill="#e6393f" stroke="#b8303a" stroke-width="0.6"/>
<rect x="334.5" y="223.5" width="157.3" height="140.0" rx="20" fill="#bec878" fill-opacity="0.2" filter="url(#soft2)"/>
<line x1="303.8" y1="256.5" x2="684.1" y2="256.5" stroke="#b4b4b4" stroke-width="1"/>
<rect x="303.5" y="220.5" width="381.0" height="143.0" fill="none" stroke="#a4a4a4" stroke-width="1"/>
<line x1="303.80" y1="220.3" x2="303.80" y2="224.60000000000002" stroke="#333" stroke-width="1"/>
<line x1="303.80" y1="363.6" x2="303.80" y2="359.3" stroke="#333" stroke-width="1"/>
<line x1="335.49" y1="220.3" x2="335.49" y2="224.60000000000002" stroke="#333" stroke-width="1"/>
<line x1="335.49" y1="363.6" x2="335.49" y2="359.3" stroke="#333" stroke-width="1"/>
<line x1="367.18" y1="220.3" x2="367.18" y2="224.60000000000002" stroke="#333" stroke-width="1"/>
<line x1="367.18" y1="363.6" x2="367.18" y2="359.3" stroke="#333" stroke-width="1"/>
<line x1="398.88" y1="220.3" x2="398.88" y2="224.60000000000002" stroke="#333" stroke-width="1"/>
<line x1="398.88" y1="363.6" x2="398.88" y2="359.3" stroke="#333" stroke-width="1"/>
<line x1="430.57" y1="220.3" x2="430.57" y2="224.60000000000002" stroke="#333" stroke-width="1"/>
<line x1="430.57" y1="363.6" x2="430.57" y2="359.3" stroke="#333" stroke-width="1"/>
<line x1="462.26" y1="220.3" x2="462.26" y2="224.60000000000002" stroke="#333" stroke-width="1"/>
<line x1="462.26" y1="363.6" x2="462.26" y2="359.3" stroke="#333" stroke-width="1"/>
<line x1="493.95" y1="220.3" x2="493.95" y2="224.60000000000002" stroke="#333" stroke-width="1"/>
<line x1="493.95" y1="363.6" x2="493.95" y2="359.3" stroke="#333" stroke-width="1"/>
<line x1="525.64" y1="220.3" x2="525.64" y2="224.60000000000002" stroke="#333" stroke-width="1"/>
<line x1="525.64" y1="363.6" x2="525.64" y2="359.3" stroke="#333" stroke-width="1"/>
<line x1="557.33" y1="220.3" x2="557.33" y2="224.60000000000002" stroke="#333" stroke-width="1"/>
<line x1="557.33" y1="363.6" x2="557.33" y2="359.3" stroke="#333" stroke-width="1"/>
<line x1="589.03" y1="220.3" x2="589.03" y2="224.60000000000002" stroke="#333" stroke-width="1"/>
<line x1="589.03" y1="363.6" x2="589.03" y2="359.3" stroke="#333" stroke-width="1"/>
<line x1="620.72" y1="220.3" x2="620.72" y2="224.60000000000002" stroke="#333" stroke-width="1"/>
<line x1="620.72" y1="363.6" x2="620.72" y2="359.3" stroke="#333" stroke-width="1"/>
<line x1="652.41" y1="220.3" x2="652.41" y2="224.60000000000002" stroke="#333" stroke-width="1"/>
<line x1="652.41" y1="363.6" x2="652.41" y2="359.3" stroke="#333" stroke-width="1"/>
<line x1="684.10" y1="220.3" x2="684.10" y2="224.60000000000002" stroke="#333" stroke-width="1"/>
<line x1="684.10" y1="363.6" x2="684.10" y2="359.3" stroke="#333" stroke-width="1"/>
<line x1="319.65" y1="220.3" x2="319.65" y2="222.5" stroke="#333" stroke-width="1"/>
<line x1="319.65" y1="363.6" x2="319.65" y2="361.40000000000003" stroke="#333" stroke-width="1"/>
<line x1="351.34" y1="220.3" x2="351.34" y2="222.5" stroke="#333" stroke-width="1"/>
<line x1="351.34" y1="363.6" x2="351.34" y2="361.40000000000003" stroke="#333" stroke-width="1"/>
<line x1="383.03" y1="220.3" x2="383.03" y2="222.5" stroke="#333" stroke-width="1"/>
<line x1="383.03" y1="363.6" x2="383.03" y2="361.40000000000003" stroke="#333" stroke-width="1"/>
<line x1="414.72" y1="220.3" x2="414.72" y2="222.5" stroke="#333" stroke-width="1"/>
<line x1="414.72" y1="363.6" x2="414.72" y2="361.40000000000003" stroke="#333" stroke-width="1"/>
<line x1="446.41" y1="220.3" x2="446.41" y2="222.5" stroke="#333" stroke-width="1"/>
<line x1="446.41" y1="363.6" x2="446.41" y2="361.40000000000003" stroke="#333" stroke-width="1"/>
<line x1="478.10" y1="220.3" x2="478.10" y2="222.5" stroke="#333" stroke-width="1"/>
<line x1="478.10" y1="363.6" x2="478.10" y2="361.40000000000003" stroke="#333" stroke-width="1"/>
<line x1="509.80" y1="220.3" x2="509.80" y2="222.5" stroke="#333" stroke-width="1"/>
<line x1="509.80" y1="363.6" x2="509.80" y2="361.40000000000003" stroke="#333" stroke-width="1"/>
<line x1="541.49" y1="220.3" x2="541.49" y2="222.5" stroke="#333" stroke-width="1"/>
<line x1="541.49" y1="363.6" x2="541.49" y2="361.40000000000003" stroke="#333" stroke-width="1"/>
<line x1="573.18" y1="220.3" x2="573.18" y2="222.5" stroke="#333" stroke-width="1"/>
<line x1="573.18" y1="363.6" x2="573.18" y2="361.40000000000003" stroke="#333" stroke-width="1"/>
<line x1="604.87" y1="220.3" x2="604.87" y2="222.5" stroke="#333" stroke-width="1"/>
<line x1="604.87" y1="363.6" x2="604.87" y2="361.40000000000003" stroke="#333" stroke-width="1"/>
<line x1="636.56" y1="220.3" x2="636.56" y2="222.5" stroke="#333" stroke-width="1"/>
<line x1="636.56" y1="363.6" x2="636.56" y2="361.40000000000003" stroke="#333" stroke-width="1"/>
<line x1="668.25" y1="220.3" x2="668.25" y2="222.5" stroke="#333" stroke-width="1"/>
<line x1="668.25" y1="363.6" x2="668.25" y2="361.40000000000003" stroke="#333" stroke-width="1"/>
<line x1="303.8" y1="220.30" x2="308.6" y2="220.30" stroke="#333" stroke-width="1"/>
<line x1="684.1" y1="220.30" x2="679.8000000000001" y2="220.30" stroke="#333" stroke-width="1"/>
<line x1="303.8" y1="223.88" x2="306.6" y2="223.88" stroke="#333" stroke-width="1"/>
<line x1="684.1" y1="223.88" x2="681.8000000000001" y2="223.88" stroke="#333" stroke-width="1"/>
<line x1="303.8" y1="227.46" x2="306.6" y2="227.46" stroke="#333" stroke-width="1"/>
<line x1="684.1" y1="227.46" x2="681.8000000000001" y2="227.46" stroke="#333" stroke-width="1"/>
<line x1="303.8" y1="231.04" x2="306.6" y2="231.04" stroke="#333" stroke-width="1"/>
<line x1="684.1" y1="231.04" x2="681.8000000000001" y2="231.04" stroke="#333" stroke-width="1"/>
<line x1="303.8" y1="234.62" x2="306.6" y2="234.62" stroke="#333" stroke-width="1"/>
<line x1="684.1" y1="234.62" x2="681.8000000000001" y2="234.62" stroke="#333" stroke-width="1"/>
<line x1="303.8" y1="238.20" x2="308.6" y2="238.20" stroke="#333" stroke-width="1"/>
<line x1="684.1" y1="238.20" x2="679.8000000000001" y2="238.20" stroke="#333" stroke-width="1"/>
<line x1="303.8" y1="241.78" x2="306.6" y2="241.78" stroke="#333" stroke-width="1"/>
<line x1="684.1" y1="241.78" x2="681.8000000000001" y2="241.78" stroke="#333" stroke-width="1"/>
<line x1="303.8" y1="245.36" x2="306.6" y2="245.36" stroke="#333" stroke-width="1"/>
<line x1="684.1" y1="245.36" x2="681.8000000000001" y2="245.36" stroke="#333" stroke-width="1"/>
<line x1="303.8" y1="248.94" x2="306.6" y2="248.94" stroke="#333" stroke-width="1"/>
<line x1="684.1" y1="248.94" x2="681.8000000000001" y2="248.94" stroke="#333" stroke-width="1"/>
<line x1="303.8" y1="252.52" x2="306.6" y2="252.52" stroke="#333" stroke-width="1"/>
<line x1="684.1" y1="252.52" x2="681.8000000000001" y2="252.52" stroke="#333" stroke-width="1"/>
<line x1="303.8" y1="256.10" x2="308.6" y2="256.10" stroke="#333" stroke-width="1"/>
<line x1="684.1" y1="256.10" x2="679.8000000000001" y2="256.10" stroke="#333" stroke-width="1"/>
<line x1="303.8" y1="259.68" x2="306.6" y2="259.68" stroke="#333" stroke-width="1"/>
<line x1="684.1" y1="259.68" x2="681.8000000000001" y2="259.68" stroke="#333" stroke-width="1"/>
<line x1="303.8" y1="263.26" x2="306.6" y2="263.26" stroke="#333" stroke-width="1"/>
<line x1="684.1" y1="263.26" x2="681.8000000000001" y2="263.26" stroke="#333" stroke-width="1"/>
<line x1="303.8" y1="266.84" x2="306.6" y2="266.84" stroke="#333" stroke-width="1"/>
<line x1="684.1" y1="266.84" x2="681.8000000000001" y2="266.84" stroke="#333" stroke-width="1"/>
<line x1="303.8" y1="270.42" x2="306.6" y2="270.42" stroke="#333" stroke-width="1"/>
<line x1="684.1" y1="270.42" x2="681.8000000000001" y2="270.42" stroke="#333" stroke-width="1"/>
<line x1="303.8" y1="274.00" x2="308.6" y2="274.00" stroke="#333" stroke-width="1"/>
<line x1="684.1" y1="274.00" x2="679.8000000000001" y2="274.00" stroke="#333" stroke-width="1"/>
<line x1="303.8" y1="277.58" x2="306.6" y2="277.58" stroke="#333" stroke-width="1"/>
<line x1="684.1" y1="277.58" x2="681.8000000000001" y2="277.58" stroke="#333" stroke-width="1"/>
<line x1="303.8" y1="281.16" x2="306.6" y2="281.16" stroke="#333" stroke-width="1"/>
<line x1="684.1" y1="281.16" x2="681.8000000000001" y2="281.16" stroke="#333" stroke-width="1"/>
<line x1="303.8" y1="284.74" x2="306.6" y2="284.74" stroke="#333" stroke-width="1"/>
<line x1="684.1" y1="284.74" x2="681.8000000000001" y2="284.74" stroke="#333" stroke-width="1"/>
<line x1="303.8" y1="288.32" x2="306.6" y2="288.32" stroke="#333" stroke-width="1"/>
<line x1="684.1" y1="288.32" x2="681.8000000000001" y2="288.32" stroke="#333" stroke-width="1"/>
<line x1="303.8" y1="291.90" x2="308.6" y2="291.90" stroke="#333" stroke-width="1"/>
<line x1="684.1" y1="291.90" x2="679.8000000000001" y2="291.90" stroke="#333" stroke-width="1"/>
<line x1="303.8" y1="295.48" x2="306.6" y2="295.48" stroke="#333" stroke-width="1"/>
<line x1="684.1" y1="295.48" x2="681.8000000000001" y2="295.48" stroke="#333" stroke-width="1"/>
<line x1="303.8" y1="299.06" x2="306.6" y2="299.06" stroke="#333" stroke-width="1"/>
<line x1="684.1" y1="299.06" x2="681.8000000000001" y2="299.06" stroke="#333" stroke-width="1"/>
<line x1="303.8" y1="302.64" x2="306.6" y2="302.64" stroke="#333" stroke-width="1"/>
<line x1="684.1" y1="302.64" x2="681.8000000000001" y2="302.64" stroke="#333" stroke-width="1"/>
<line x1="303.8" y1="306.22" x2="306.6" y2="306.22" stroke="#333" stroke-width="1"/>
<line x1="684.1" y1="306.22" x2="681.8000000000001" y2="306.22" stroke="#333" stroke-width="1"/>
<line x1="303.8" y1="309.80" x2="308.6" y2="309.80" stroke="#333" stroke-width="1"/>
<line x1="684.1" y1="309.80" x2="679.8000000000001" y2="309.80" stroke="#333" stroke-width="1"/>
<line x1="303.8" y1="313.38" x2="306.6" y2="313.38" stroke="#333" stroke-width="1"/>
<line x1="684.1" y1="313.38" x2="681.8000000000001" y2="313.38" stroke="#333" stroke-width="1"/>
<line x1="303.8" y1="316.96" x2="306.6" y2="316.96" stroke="#333" stroke-width="1"/>
<line x1="684.1" y1="316.96" x2="681.8000000000001" y2="316.96" stroke="#333" stroke-width="1"/>
<line x1="303.8" y1="320.54" x2="306.6" y2="320.54" stroke="#333" stroke-width="1"/>
<line x1="684.1" y1="320.54" x2="681.8000000000001" y2="320.54" stroke="#333" stroke-width="1"/>
<line x1="303.8" y1="324.12" x2="306.6" y2="324.12" stroke="#333" stroke-width="1"/>
<line x1="684.1" y1="324.12" x2="681.8000000000001" y2="324.12" stroke="#333" stroke-width="1"/>
<line x1="303.8" y1="327.70" x2="308.6" y2="327.70" stroke="#333" stroke-width="1"/>
<line x1="684.1" y1="327.70" x2="679.8000000000001" y2="327.70" stroke="#333" stroke-width="1"/>
<line x1="303.8" y1="331.28" x2="306.6" y2="331.28" stroke="#333" stroke-width="1"/>
<line x1="684.1" y1="331.28" x2="681.8000000000001" y2="331.28" stroke="#333" stroke-width="1"/>
<line x1="303.8" y1="334.86" x2="306.6" y2="334.86" stroke="#333" stroke-width="1"/>
<line x1="684.1" y1="334.86" x2="681.8000000000001" y2="334.86" stroke="#333" stroke-width="1"/>
<line x1="303.8" y1="338.44" x2="306.6" y2="338.44" stroke="#333" stroke-width="1"/>
<line x1="684.1" y1="338.44" x2="681.8000000000001" y2="338.44" stroke="#333" stroke-width="1"/>
<line x1="303.8" y1="342.02" x2="306.6" y2="342.02" stroke="#333" stroke-width="1"/>
<line x1="684.1" y1="342.02" x2="681.8000000000001" y2="342.02" stroke="#333" stroke-width="1"/>
<line x1="303.8" y1="345.60" x2="308.6" y2="345.60" stroke="#333" stroke-width="1"/>
<line x1="684.1" y1="345.60" x2="679.8000000000001" y2="345.60" stroke="#333" stroke-width="1"/>
<line x1="303.8" y1="349.18" x2="306.6" y2="349.18" stroke="#333" stroke-width="1"/>
<line x1="684.1" y1="349.18" x2="681.8000000000001" y2="349.18" stroke="#333" stroke-width="1"/>
<line x1="303.8" y1="352.76" x2="306.6" y2="352.76" stroke="#333" stroke-width="1"/>
<line x1="684.1" y1="352.76" x2="681.8000000000001" y2="352.76" stroke="#333" stroke-width="1"/>
<line x1="303.8" y1="356.34" x2="306.6" y2="356.34" stroke="#333" stroke-width="1"/>
<line x1="684.1" y1="356.34" x2="681.8000000000001" y2="356.34" stroke="#333" stroke-width="1"/>
<line x1="303.8" y1="359.92" x2="306.6" y2="359.92" stroke="#333" stroke-width="1"/>
<line x1="684.1" y1="359.92" x2="681.8000000000001" y2="359.92" stroke="#333" stroke-width="1"/>
<line x1="303.8" y1="363.50" x2="308.6" y2="363.50" stroke="#333" stroke-width="1"/>
<line x1="684.1" y1="363.50" x2="679.8000000000001" y2="363.50" stroke="#333" stroke-width="1"/>
<text x="291.7" y="220.5" font-size="11" text-anchor="middle" fill="#333" >0.2</text>
<text x="291.7" y="256.1" font-size="11" text-anchor="middle" fill="#333" >0</text>
<text x="291.7" y="292.6" font-size="11" text-anchor="middle" fill="#333" >-0.2</text>
<text x="291.7" y="328.3" font-size="11" text-anchor="middle" fill="#333" >-0.4</text>
<text x="291.7" y="363.5" font-size="11" text-anchor="middle" fill="#333" >-0.6</text>
<text x="319.65" y="377.8" font-size="10.9" text-anchor="middle" fill="#333" >3.1</text>
<text x="351.34" y="377.8" font-size="10.9" text-anchor="middle" fill="#333" >5.84</text>
<text x="383.03" y="377.8" font-size="10.9" text-anchor="middle" fill="#333" >5.86</text>
<text x="414.72" y="377.8" font-size="10.9" text-anchor="middle" fill="#333" >6.03</text>
<text x="446.41" y="377.8" font-size="10.9" text-anchor="middle" fill="#333" >8.09</text>
<text x="478.10" y="377.8" font-size="10.9" text-anchor="middle" fill="#333" >8.28</text>
<text x="509.80" y="377.8" font-size="10.9" text-anchor="middle" fill="#333" >11.24</text>
<text x="541.49" y="377.8" font-size="10.9" text-anchor="middle" fill="#333" >11.32</text>
<text x="573.18" y="377.8" font-size="10.9" text-anchor="middle" fill="#333" >14.19</text>
<text x="604.87" y="377.8" font-size="10.9" text-anchor="middle" fill="#333" >14.21</text>
<text x="636.56" y="377.8" font-size="10.9" text-anchor="middle" fill="#333" >14.33</text>
<text x="668.25" y="377.8" font-size="10.9" text-anchor="middle" fill="#333" >14.4</text>
<text x="400" y="394.9" font-size="12.65" fill="#2a2a2a">Distance Along <tspan font-style="italic">y</tspan> Axis (Angstrom)</text>
<text transform="translate(277.2,289) rotate(-90)" font-size="12.7" text-anchor="middle" fill="#2a2a2a">Segregation Energy (eV)</text>
<text x="466.94" y="410.90" font-size="14.49" textLength="20.92" lengthAdjust="spacingAndGlyphs" fill="#222" stroke="#222" stroke-width="0.05" >(e)</text>
<rect x="543.3" y="319.9" width="116.9" height="41.6" fill="#fff" stroke="#444" stroke-width="1"/>
<rect x="558.5" y="325.70" width="8" height="7.5" fill="#4650a6"/>
<text x="576.4" y="332.50" font-size="8.6" text-anchor="start" fill="#3f4aa0" >Perfect-Ni</text>
<rect x="558.5" y="337.30" width="8" height="7.5" fill="#6fc65a"/>
<text x="576.4" y="344.10" font-size="8.6" text-anchor="start" fill="#72c060" >Vacancy-Ni</text>
<rect x="558.5" y="348.90" width="8" height="7.5" fill="#e6393f"/>
<text x="576.4" y="355.70" font-size="8.6" text-anchor="start" fill="#e0303f" >Oxygen+Vacancy-Ni</text>
<text x="390.86" y="233.60" font-size="10.61" textLength="14.18" lengthAdjust="spacingAndGlyphs" fill="#222" stroke="#222" stroke-width="0.22" >DP</text>
<line x1="397.4" y1="234.5" x2="407.6" y2="255.8" stroke="#1a1a1a" stroke-width="1.25" marker-end="url(#ah)"/>
<text x="404.59" y="228.60" font-size="10.17" textLength="13.65" lengthAdjust="spacingAndGlyphs" fill="#222" stroke="#222" stroke-width="0.22" >DV</text>
<line x1="413.5" y1="229.4" x2="413.5" y2="255.8" stroke="#1a1a1a" stroke-width="1.25" marker-end="url(#ah)"/>
<text x="420.90" y="236.11" font-size="9.46" textLength="14.56" lengthAdjust="spacingAndGlyphs" fill="#222" stroke="#222" stroke-width="0.22" >DO</text>
<line x1="426.6" y1="236.3" x2="419.9" y2="255.8" stroke="#1a1a1a" stroke-width="1.25" marker-end="url(#ah)"/>
<text x="582.86" y="232.51" font-size="9.46" textLength="11.99" lengthAdjust="spacingAndGlyphs" fill="#222" stroke="#222" stroke-width="0.22" >CP</text>
<line x1="588.8" y1="233.4" x2="598.6" y2="255.3" stroke="#1a1a1a" stroke-width="1.25" marker-end="url(#ah)"/>
<text x="595.66" y="228.01" font-size="9.32" textLength="11.98" lengthAdjust="spacingAndGlyphs" fill="#222" stroke="#222" stroke-width="0.22" >CV</text>
<line x1="604.2" y1="228.8" x2="604.2" y2="255.3" stroke="#1a1a1a" stroke-width="1.25" marker-end="url(#ah)"/>
<text x="612.14" y="234.91" font-size="9.46" textLength="13.70" lengthAdjust="spacingAndGlyphs" fill="#222" stroke="#222" stroke-width="0.22" >CO</text>
<line x1="617.7" y1="236.0" x2="611.0" y2="255.3" stroke="#1a1a1a" stroke-width="1.25" marker-end="url(#ah)"/>
<rect x="503.2" y="76.3" width="32.3" height="5" fill="#1e1e1e"/>
<path d="M496.6,78.8 L503.9,73.7 L503.9,83.9 z" fill="#1e1e1e"/>
<text x="538.47" y="83.46" font-size="14.43" textLength="79.28" lengthAdjust="spacingAndGlyphs" fill="#1e1e1e" stroke="#1e1e1e" stroke-width="0.15" >Dislocation</text>
</svg>
</body></html>
